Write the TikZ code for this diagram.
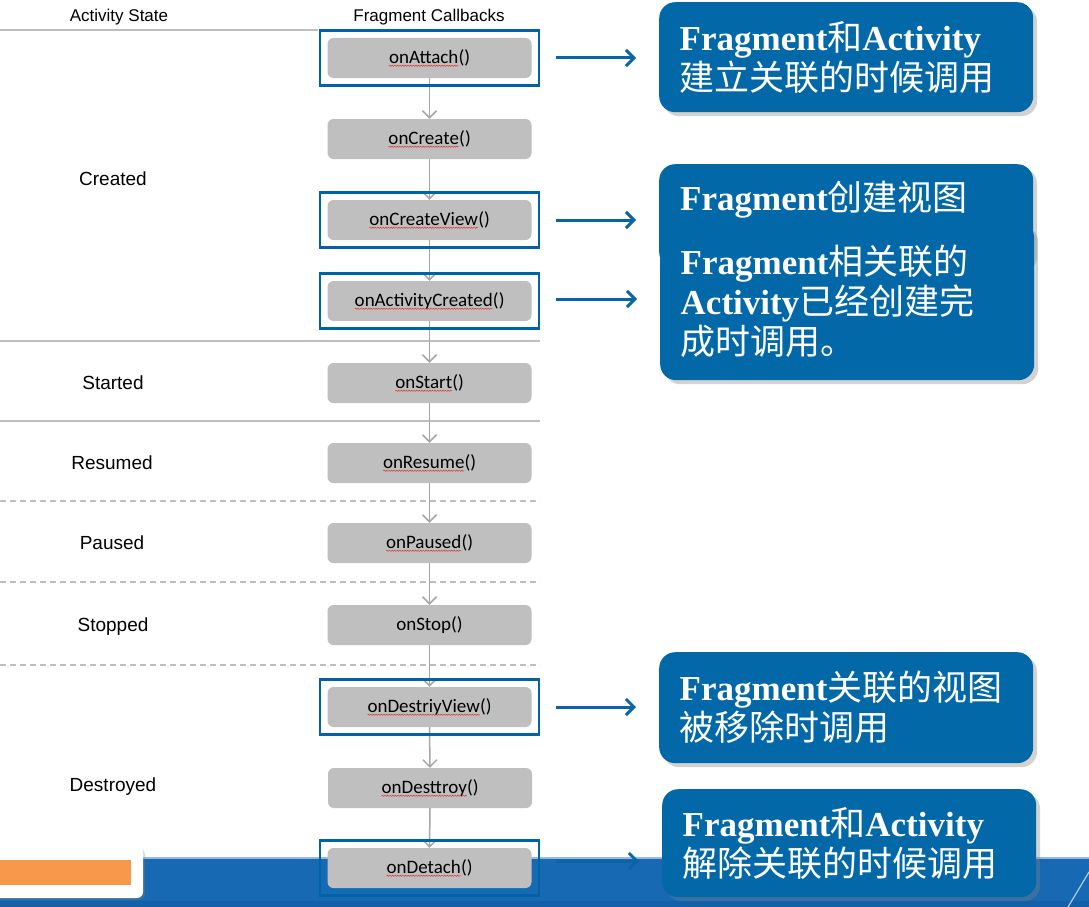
\documentclass[tikz,border=0pt]{standalone}
\usepackage{fontspec}
\setmainfont{Liberation Sans}
\newfontfamily\cbfont{Carlito}
\newfontfamily\cjkfont{Noto Sans CJK SC}
\newfontfamily\serfont{Liberation Serif}
\usetikzlibrary{arrows.meta,fit,shadows,decorations.pathmorphing}
\definecolor{calloutblue}{RGB}{3,104,168}
\definecolor{frameblue}{RGB}{0,99,166}
\definecolor{arrowblue}{RGB}{10,100,165}
\definecolor{bandblue}{RGB}{22,105,178}
\definecolor{boxgray}{RGB}{191,191,191}
\definecolor{arrgray}{RGB}{166,166,166}
\definecolor{sepgray}{RGB}{190,190,190}
\definecolor{spellred}{RGB}{225,50,50}
\definecolor{orangebar}{RGB}{247,152,74}
\newcommand\lt[1]{{\serfont\bfseries #1}}
\newcommand\zh[1]{{\cjkfont #1}}
\newcommand\wavy[1]{\tikz[baseline=(wv.base)]{\node[shape=rectangle,inner sep=0pt,outer sep=0pt,minimum width=0pt,minimum height=0pt,fill=none,draw=none,rounded corners=0pt] (wv) {#1};\draw[spellred,fill=none,rounded corners=0pt,line width=0.5pt,decorate,decoration={snake,amplitude=0.6pt,segment length=2.6pt}] ([yshift=-2.5pt]wv.base west) -- ([yshift=-2.5pt]wv.base east);}}
\begin{document}
\begin{tikzpicture}[x=1pt,y=-1pt,
  cbbox/.style={fill=boxgray, rounded corners=6pt, minimum width=204pt, minimum height=40pt, inner sep=0pt, font=\cbfont\fontsize{19}{22}\selectfont},
  state/.style={font=\fontsize{19}{22}\selectfont},
  head/.style={font=\fontsize{17}{20}\selectfont},
  garrow/.style={draw=arrgray, line width=1.5pt, -{Straight Barb[length=7pt,width=14pt]}},
  frame/.style={draw=frameblue, line width=2.5pt, inner sep=7.5pt},
  barrow/.style={draw=arrowblue, line width=3pt, -{Straight Barb[length=8pt,width=16pt]}},
  sepline/.style={draw=sepgray, line width=1.5pt},
  dsep/.style={draw=sepgray, line width=1.5pt, dash pattern=on 6pt off 4pt},
  callout/.style={fill=calloutblue, rounded corners=16pt, text=white, align=left, text width=333pt, inner xsep=20.5pt, inner ysep=0pt, anchor=north west, drop shadow={shadow xshift=4pt, shadow yshift=-4pt, opacity=0.35}, font=\fontsize{35}{40}\selectfont},
  ctext/.style={text=white, anchor=west, inner sep=0pt, font=\fontsize{35}{40}\selectfont}
]
\useasboundingbox (0,0) rectangle (1089,907);
\fill[white] (0,0) rectangle (1089,907);
% bottom band
\fill[bandblue] (0,858) rectangle (1089,907);
\draw[color={rgb,255:red,150;green,185;blue,225}, line width=1.5pt] (0,858) -- (1089,858);
\fill[color={rgb,255:red,18;green,96;blue,170}] (0,901) rectangle (1089,907);
\draw[color={rgb,255:red,170;green,205;blue,235}, line width=1.2pt] (1068,907) -- (1089,872);
\fill[white, rounded corners=6pt, drop shadow={shadow xshift=2pt, shadow yshift=-2pt, opacity=0.3}] (-10,847) rectangle (143,898);
\fill[orangebar] (0,860) rectangle (131,885);
% separators
\draw[sepline] (0,30) -- (318,30);
\draw[sepline] (0,341) -- (540,341);
\draw[sepline] (0,421) -- (540,421);
\draw[dsep] (0,501) -- (540,501);
\draw[dsep] (0,582) -- (540,582);
\draw[dsep] (0,665) -- (540,665);
% headers
\node[head] (h1) at (119,17) {Activity State};
\node[head] (h2) at (429,17) {Fragment Callbacks};
% states
\node[state] (s1) at (113,179) {Created};
\node[state] (s2) at (113,383) {Started};
\node[state] (s3) at (112,463) {Resumed};
\node[state] (s4) at (112,543) {Paused};
\node[state] (s5) at (113,627) {Stopped};
\node[state] (s6) at (113,787) {Destroyed};
% callback boxes
\node[cbbox] (b1) at (429.5,58) {\wavy{onAttach}()};
\node[cbbox] (b2) at (429.5,139) {\wavy{onCreate}()};
\node[cbbox] (b3) at (429.5,220) {\wavy{onCreateView}()};
\node[cbbox] (b4) at (429.5,301) {\wavy{onActivityCreated}()};
\node[cbbox] (b5) at (429.5,383) {\wavy{onStart}()};
\node[cbbox] (b6) at (429.5,463) {\wavy{onResume}()};
\node[cbbox] (b7) at (429.5,543) {\wavy{onPaused}()};
\node[cbbox] (b8) at (429.5,625) {onStop()};
\node[cbbox] (b9) at (429.5,707) {\wavy{onDestriyView}()};
\node[cbbox] (b10) at (430,788) {\wavy{onDesttroy}()};
\node[cbbox] (b11) at (429.5,868) {\wavy{onDetach}()};
% gray arrows
\foreach \a/\b in {b1/b2,b2/b3,b3/b4,b4/b5,b5/b6,b6/b7,b7/b8,b8/b9,b9/b10,b10/b11}
  \draw[garrow] (\a.south) -- (\b.north);
% frames
\node[frame, fit=(b1)] (f1) {};
\node[frame, fit=(b3)] (f3) {};
\node[frame, fit=(b4)] (f4) {};
\node[frame, fit=(b9)] (f9) {};
\node[frame, fit=(b11)] (f11) {};
% callouts
\node[callout, minimum height=110pt] (c1) at (659,2) {\lt{Fragment}\zh{和}\lt{Activity}\\\zh{建立关联的时候调用}};
\node[callout, minimum height=104pt] (c2) at (659,164) {};
\node[ctext] (c2t) at (680,200) {\lt{Fragment}\zh{创建视图}};
\node[callout, minimum height=158pt] (c3) at (660,222) {\lt{Fragment}\zh{相关联的}\\\lt{Activity}\zh{已经创建完}\\\zh{成时调用。}};
\node[callout, minimum height=111pt] (c4) at (659,652) {\lt{Fragment}\zh{关联的视图}\\\zh{被移除时调用}};
% blue arrows
\draw[barrow] ([xshift=16pt]f1.east) -- ([xshift=-23pt]f1.east -| c1.west);
\draw[barrow] ([xshift=16pt]f3.east) -- ([xshift=-23pt]f3.east -| c2.west);
\draw[barrow] ([xshift=16pt,yshift=2pt]f4.east) -- ([xshift=-23pt,yshift=2pt]f4.east -| c3.west);
\draw[barrow] ([xshift=16pt]f9.east) -- ([xshift=-23pt]f9.east -| c4.west);
\node[callout, minimum height=108pt] (c5) at (662,789) {\lt{Fragment}\zh{和}\lt{Activity}\\\zh{解除关联的时候调用}};
\draw[barrow] ([xshift=16pt,yshift=7pt]f11.east) -- ([xshift=-23pt,yshift=7pt]f11.east -| c5.west);
\end{tikzpicture}
\end{document}
